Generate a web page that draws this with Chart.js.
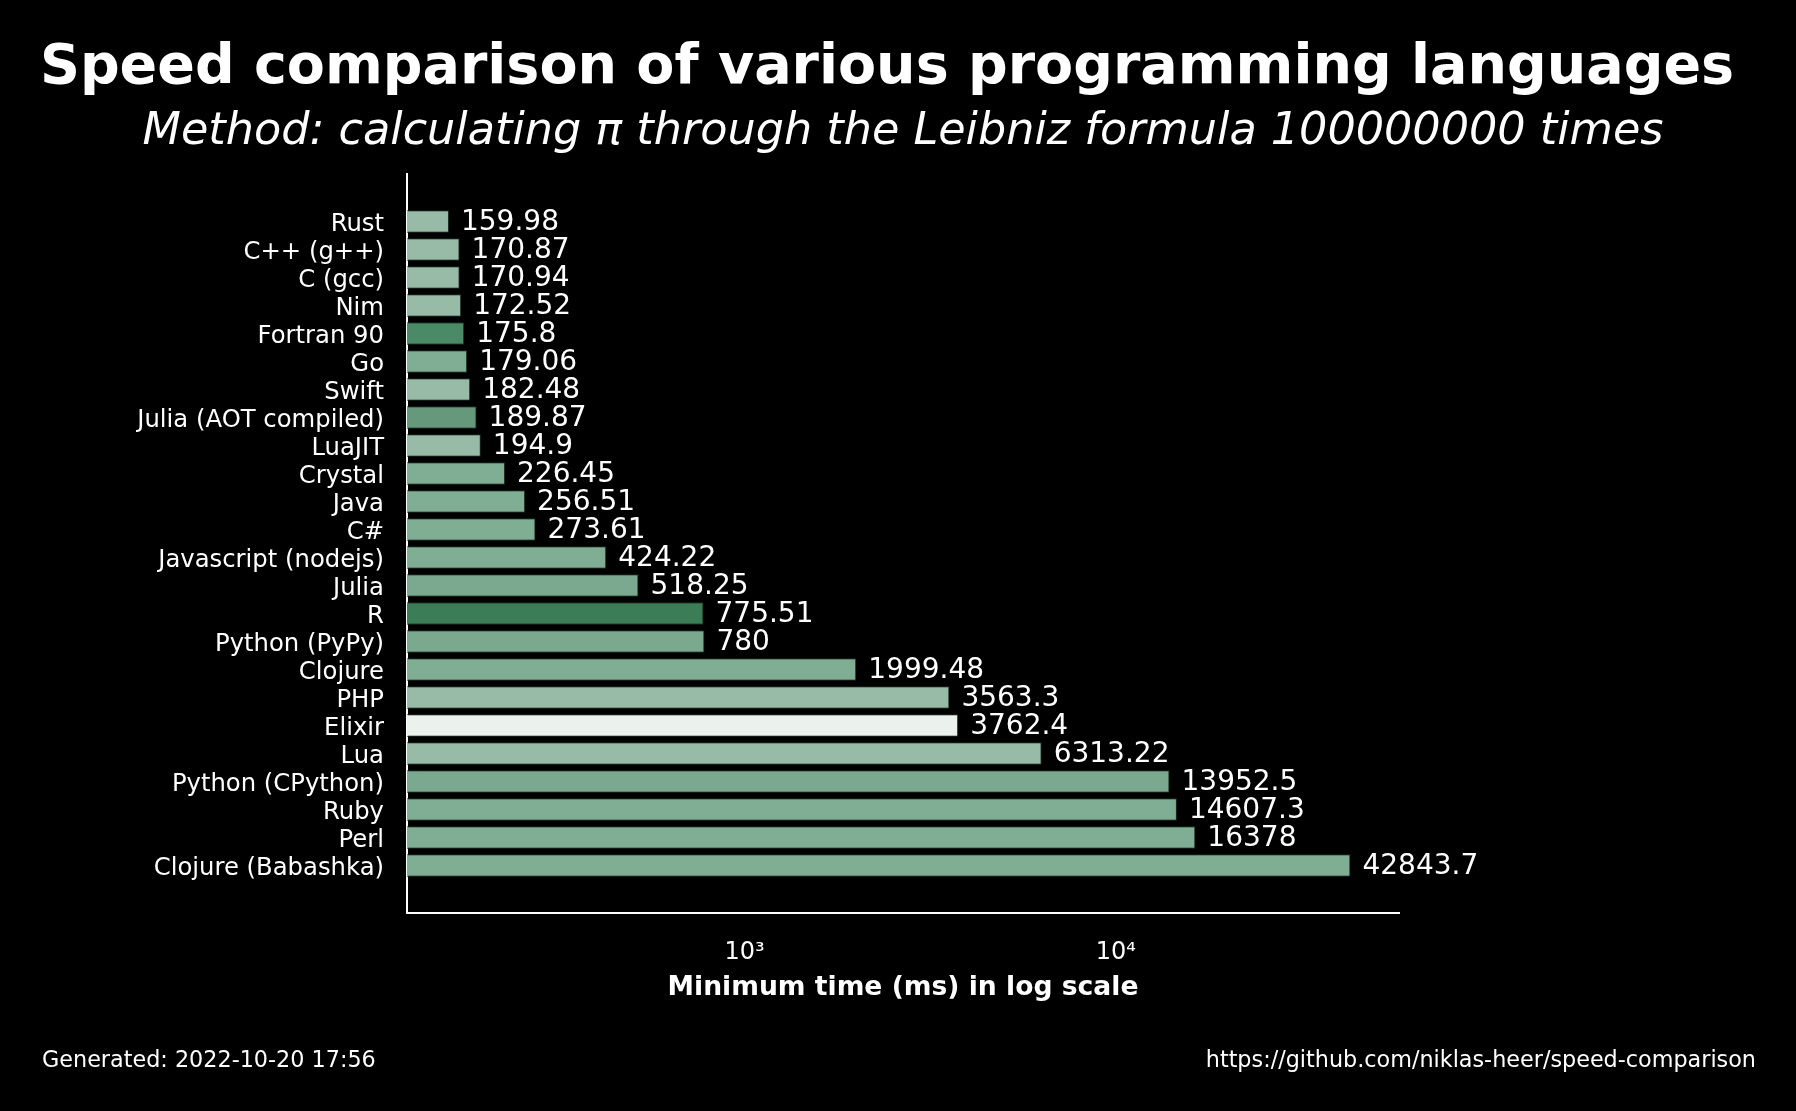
<!DOCTYPE html>
<html lang="en">
<head>
  <meta charset="UTF-8">
  <title>Speed comparison of various programming languages</title>
  <script src="https://cdn.jsdelivr.net/npm/chart.js"></script>
  <style>
    body {
      margin: 0;
      padding: 0;
      background: #000;
    }
    canvas {
      display: block;
    }
  </style>
</head>
<body>
  <canvas id="speedChart" width="1796" height="1111"></canvas>

  <script>
    // languages, top to bottom
    const languages = [
      'Rust', 'C++ (g++)', 'C (gcc)', 'Nim', 'Fortran 90', 'Go', 'Swift',
      'Julia (AOT compiled)', 'LuaJIT', 'Crystal', 'Java', 'C#',
      'Javascript (nodejs)', 'Julia', 'R', 'Python (PyPy)', 'Clojure', 'PHP',
      'Elixir', 'Lua', 'Python (CPython)', 'Ruby', 'Perl', 'Clojure (Babashka)'
    ];

    // minimum time in ms
    const minTimes = [
      159.98, 170.87, 170.94, 172.52, 175.8, 179.06, 182.48,
      189.87, 194.9, 226.45, 256.51, 273.61,
      424.22, 518.25, 775.51, 780, 1999.48, 3563.3,
      3762.4, 6313.22, 13952.5, 14607.3, 16378, 42843.7
    ];

    const barColors = [
      '#98bba7', '#98bba7', '#98bba7', '#98bba7', '#4a8a66', '#80ae95', '#98bba7',
      '#66997c', '#98bba7', '#80ae95', '#80ae95', '#80ae95',
      '#80ae95', '#7aa98f', '#3b7d57', '#7aa98f', '#80ae95', '#98bba7',
      '#ebf1ed', '#98bba7', '#7aa98f', '#80ae95', '#80ae95', '#80ae95'
    ];

    const xTickLabels = { 1000: '10³', 10000: '10⁴' };

    const titleText = 'Speed comparison of various programming languages';
    const subtitleText = 'Method: calculating π through the Leibniz formula 100000000 times';
    const footerLeft = 'Generated: 2022-10-20 17:56';
    const footerRight = 'https://github.com/niklas-heer/speed-comparison';

    const FONT = '"DejaVu Sans", sans-serif';

    // value labels next to the bars + title / footer texts
    const textPlugin = {
      id: 'texts',
      afterDatasetsDraw(chart) {
        const ctx = chart.ctx;
        const meta = chart.getDatasetMeta(0);
        ctx.save();
        ctx.fillStyle = '#ffffff';
        ctx.font = '28px ' + FONT;
        ctx.textAlign = 'left';
        ctx.textBaseline = 'middle';
        meta.data.forEach((bar, i) => {
          ctx.fillText(String(minTimes[i]), bar.x + 12, bar.y + 1);
        });
        ctx.restore();
      },
      afterDraw(chart) {
        const ctx = chart.ctx;
        ctx.save();
        ctx.fillStyle = '#ffffff';
        ctx.textBaseline = 'middle';

        ctx.textAlign = 'center';
        ctx.font = 'bold 55.5px ' + FONT;
        ctx.fillText(titleText, 887, 68.5);
        ctx.font = 'italic 44.5px ' + FONT;
        ctx.fillText(subtitleText, 903, 132.5);

        ctx.font = '22.3px ' + FONT;
        ctx.textAlign = 'left';
        ctx.fillText(footerLeft, 42, 1061);
        ctx.textAlign = 'right';
        ctx.fillText(footerRight, 1756, 1061);
        ctx.restore();
      }
    };

    const ctx = document.getElementById('speedChart').getContext('2d');
    const speedChart = new Chart(ctx, {
      type: 'bar',
      data: {
        datasets: [
          {
            data: minTimes.map((t, i) => ({ x: t, y: i })),
            backgroundColor: barColors,
            borderColor: '#1b2e23',
            borderWidth: 1,
            barPercentage: 0.8,
            categoryPercentage: 1.0
          }
        ]
      },
      options: {
        indexAxis: 'y',
        responsive: false,
        animation: false,
        devicePixelRatio: 1,
        layout: {
          padding: { top: 174, left: 0, right: 397, bottom: 98 }
        },
        plugins: {
          legend: { display: false },
          tooltip: { enabled: false }
        },
        scales: {
          x: {
            type: 'logarithmic',
            position: 'bottom',
            min: 123.3,
            max: 57900,
            grid: { display: false, drawTicks: false },
            border: { display: true, color: '#ffffff', width: 2 },
            ticks: {
              autoSkip: false,
              maxRotation: 0,
              padding: 25,
              color: '#ffffff',
              font: { family: FONT, size: 24 },
              callback: function(value) {
                return xTickLabels[Math.round(value)] || '';
              }
            },
            title: {
              display: true,
              text: 'Minimum time (ms) in log scale',
              color: '#ffffff',
              font: { family: FONT, size: 26.6, weight: 'bold' },
              padding: { top: 0, bottom: 9 }
            },
            afterFit: function(scale) {
              scale.height = 100;
            }
          },
          y: {
            type: 'linear',
            reverse: true,
            offset: false,
            min: -1.696,
            max: 24.696,
            grid: { display: false, drawTicks: false, offset: false },
            border: { display: true, color: '#ffffff', width: 2 },
            ticks: {
              stepSize: 1,
              autoSkip: false,
              padding: 23,
              labelOffset: 3,
              color: '#ffffff',
              font: { family: FONT, size: 24.3 },
              callback: function(value) {
                if (!Number.isInteger(value)) return '';
                return languages[value] || '';
              }
            },
            afterFit: function(scale) {
              scale.width = 407;
            }
          }
        }
      },
      plugins: [textPlugin]
    });
  </script>
</body>
</html>
